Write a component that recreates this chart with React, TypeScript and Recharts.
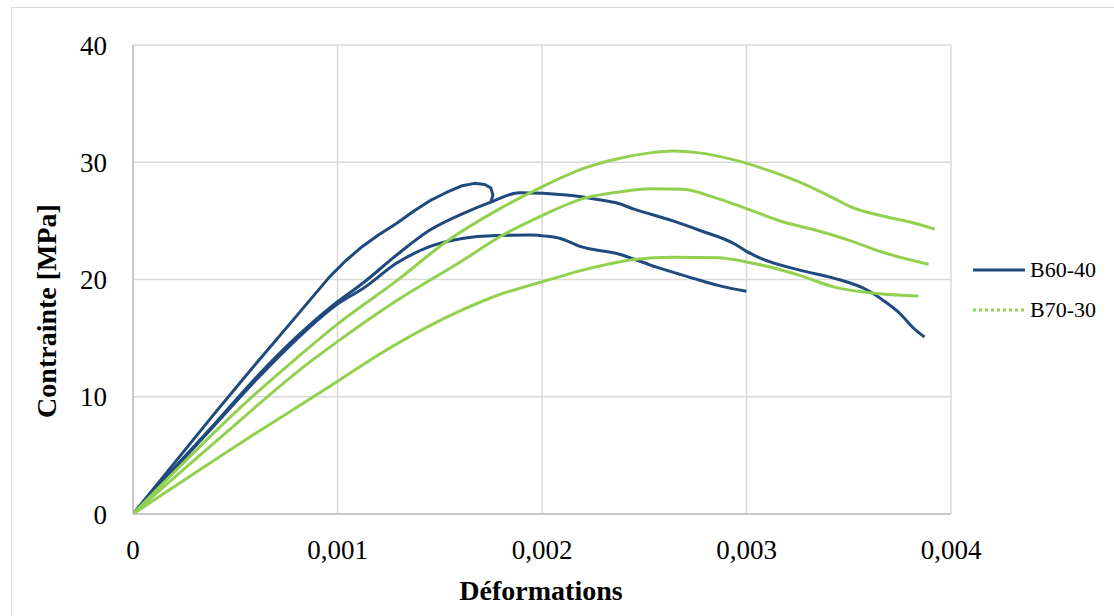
import { LineChart, Line, XAxis, YAxis, CartesianGrid } from "recharts";

// strain / stress
const strainTicks = [0, 0.001, 0.002, 0.003, 0.004];
const stressTicks = [0, 10, 20, 30, 40];
const seriesNames = ["B60-40", "B70-30"];

const b60a = [
  [0, 0], [0.0002, 4.3], [0.0004, 8.6], [0.0006, 12.8], [0.0008, 16.9], [0.00096, 20.2],
  [0.00104, 21.6], [0.00112, 22.8], [0.0012, 23.8], [0.00129, 24.8], [0.00137, 25.8],
  [0.00145, 26.7], [0.00153, 27.4], [0.00161, 28.0], [0.00167, 28.2], [0.00172, 28.1],
  [0.00175, 27.8], [0.00176, 27.2], [0.00175, 26.6],
];
const b60b = [
  [0, 0], [0.0002, 3.9], [0.0004, 7.7], [0.0006, 11.6], [0.0008, 15.1], [0.001, 18.1],
  [0.001125, 19.7], [0.00129, 22.1], [0.00145, 24.2], [0.00161, 25.6], [0.00175, 26.6],
  [0.00189, 27.4], [0.00212, 27.2], [0.00228, 26.8], [0.00237, 26.5], [0.00245, 26.0],
  [0.00264, 25.0], [0.00277, 24.2], [0.00294, 23.05], [0.003, 22.4], [0.00307, 21.8],
  [0.00326, 20.8], [0.00343, 20.1], [0.00359, 19.1], [0.00367, 18.2], [0.00375, 17.1],
  [0.00382, 15.8], [0.00387, 15.1],
];
const b60c = [
  [0, 0], [0.0002, 3.8], [0.0004, 7.6], [0.0006, 11.4], [0.0008, 14.9], [0.001, 17.9],
  [0.00113, 19.3], [0.00129, 21.4], [0.00145, 22.8], [0.00161, 23.5], [0.00178, 23.75],
  [0.00195, 23.8], [0.00202, 23.7], [0.00209, 23.5], [0.00219, 22.8], [0.00237, 22.2],
  [0.00256, 21.05], [0.00274, 20.1], [0.00286, 19.5], [0.003, 19.0],
];
const b70a = [
  [0, 0], [0.00057, 9.8], [0.0008, 13.3], [0.001, 16.2], [0.00129, 19.9], [0.00153, 23.2],
  [0.00179, 26.0], [0.002, 27.9], [0.0022, 29.45], [0.00237, 30.3], [0.00253, 30.8],
  [0.00264, 30.95], [0.00277, 30.8], [0.00294, 30.2], [0.0031, 29.35], [0.00326, 28.3],
  [0.00343, 26.9], [0.00351, 26.2], [0.00367, 25.4], [0.0038, 24.9], [0.00392, 24.3],
];
const b70b = [
  [0, 0], [0.0004, 6.1], [0.000864, 12.95], [0.001, 14.7], [0.00129, 18.2], [0.00161, 21.6],
  [0.00179, 23.6], [0.002, 25.45], [0.0022, 26.9], [0.00237, 27.45], [0.00253, 27.75],
  [0.00269, 27.7], [0.00286, 26.9], [0.003, 26.05], [0.00318, 24.9], [0.00334, 24.2],
  [0.00351, 23.3], [0.00367, 22.3], [0.00389, 21.3],
];
const b70c = [
  [0, 0], [0.00057, 6.55], [0.000995, 11.25], [0.00113, 12.8], [0.00161, 17.4],
  [0.00179, 18.7], [0.00194, 19.5], [0.002, 19.8], [0.0022, 20.8], [0.00245, 21.7],
  [0.00264, 21.9], [0.00286, 21.86], [0.003, 21.5], [0.00326, 20.35], [0.00343, 19.35],
  [0.00359, 18.9], [0.00384, 18.6],
];

const BLUE = "#1F4A7D";
const GREEN = "#92D050";
const FONT = "'Liberation Serif', 'Times New Roman', serif";

const toPts = (arr: number[][]) => arr.map(([x, y]) => ({ x, y }));

const curves = [
  { key: "b60a", data: toPts(b60a), color: BLUE, type: "linear" },
  { key: "b60b", data: toPts(b60b), color: BLUE, type: "monotone" },
  { key: "b60c", data: toPts(b60c), color: BLUE, type: "monotone" },
  { key: "b70a", data: toPts(b70a), color: GREEN, type: "monotone" },
  { key: "b70b", data: toPts(b70b), color: GREEN, type: "monotone" },
  { key: "b70c", data: toPts(b70c), color: GREEN, type: "monotone" },
];

const fmt = (v: number) => (v === 0 ? "0" : v.toFixed(3).replace(".", ","));

export default function App() {
  return (
    <div style={{ position: "absolute", left: 0, top: 0, width: 1114, height: 616, background: "#fff", fontFamily: FONT }}>
      <div style={{ position: "absolute", left: 11, top: 7, width: 1110, height: 620, border: "1.5px solid #d9d9d9", boxSizing: "border-box" }} />
      <LineChart width={1114} height={616} margin={{ top: 45, right: 163, bottom: 42, left: 73 }}>
        <CartesianGrid stroke="#d9d9d9" strokeWidth={1.5} horizontalValues={stressTicks} verticalValues={strainTicks} />
        <XAxis
          type="number" dataKey="x" domain={[0, 0.004]} ticks={strainTicks} tickFormatter={fmt}
          height={60} tickLine={false} axisLine={{ stroke: "#bfbfbf", strokeWidth: 1.5 }}
          tick={{ fontSize: 27, fill: "#000", fontFamily: FONT }} tickMargin={20} allowDataOverflow
          label={{
            content: () => (
              <text x={541} y={600} textAnchor="middle" fontSize={28} fontWeight="bold" fontFamily={FONT} fill="#000">
                Déformations
              </text>
            ),
          }}
        />
        <YAxis
          type="number" dataKey="y" domain={[0, 40]} ticks={stressTicks} width={60}
          tickLine={false} axisLine={{ stroke: "#bfbfbf", strokeWidth: 1.5 }}
          tick={{ fontSize: 27, fill: "#000", fontFamily: FONT }} tickMargin={20}
          label={{
            content: () => (
              <text x={56} y={311} textAnchor="middle" fontSize={28} fontWeight="bold" fontFamily={FONT}
                fill="#000" transform="rotate(-90, 56, 311)">
                Contrainte [MPa]
              </text>
            ),
          }}
        />
        {curves.map((c) => (
          <Line key={c.key} data={c.data} dataKey="y" type={c.type as any} stroke={c.color} strokeWidth={3}
            dot={false} activeDot={false} isAnimationActive={false} strokeLinejoin="round" />
        ))}
      </LineChart>
      <div style={{ position: "absolute", left: 973, top: 250 }}>
        {seriesNames.map((n, i) => (
          <div key={n} style={{ display: "flex", alignItems: "center", height: 40, fontSize: 22, color: "#000" }}>
            <svg width={54} height={10} style={{ marginRight: 3 }}>
              <line x1={0} y1={5} x2={52} y2={5} stroke={i === 0 ? BLUE : GREEN} strokeWidth={3}
                strokeDasharray={i === 0 ? undefined : "3 3"} />
            </svg>
            <span>{n}</span>
          </div>
        ))}
      </div>
    </div>
  );
}
